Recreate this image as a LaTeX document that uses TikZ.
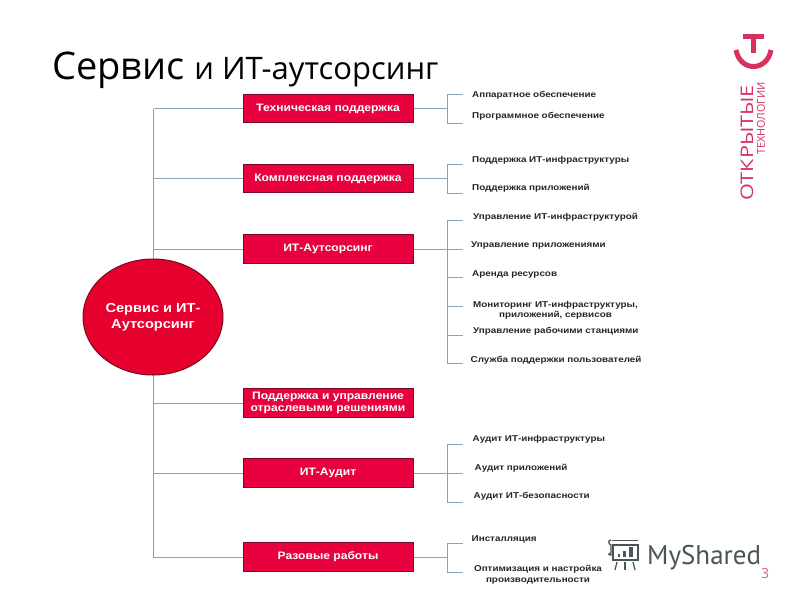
\documentclass[tikz,border=0pt]{standalone}
\usepackage{fontspec}
\usetikzlibrary{shapes.geometric}
\setmainfont{Liberation Sans}
\newfontfamily\boxfont[FakeStretch=1.12]{Liberation Sans Bold}
\newfontfamily\subfont[FakeStretch=1.16]{Liberation Sans Bold}
\newfontfamily\titlefont{Open Sans}
\newfontfamily\logofont{Open Sans}
\newfontfamily\logowide[FakeStretch=1.25]{Open Sans}
\newfontfamily\markfont{PT Sans}
\definecolor{boxred}{HTML}{E9003F}
\definecolor{boxedge}{HTML}{7A0A24}
\definecolor{circred}{HTML}{E5002E}
\definecolor{linkblue}{HTML}{86A2BC}
\definecolor{logored}{HTML}{D8305F}
\definecolor{markgray}{HTML}{4A5557}
\begin{document}
\begin{tikzpicture}[x=1pt,y=-1pt,
  link/.style={draw=linkblue,line width=1pt},
  redbox/.style={draw=boxedge,line width=1pt,fill=boxred,minimum width=170pt,minimum height=28.5pt,inner sep=0pt,text=white,align=center,font=\boxfont\fontsize{10.8}{11.5}\selectfont},
  sublabel/.style={anchor=mid west,inner sep=0pt,yshift=-0.6pt,text=black!85,font=\subfont\fontsize{8.5}{10}\selectfont},
  subtwo/.style={anchor=center,inner sep=0pt,yshift=-0.6pt,align=center,text=black!85,font=\subfont\fontsize{8.5}{10.5}\selectfont},
  logoline/.style={logored,line width=5pt},
  markline/.style={markgray,line width=1.3pt}]
\useasboundingbox (0,0) rectangle (800,600);
\fill[white] (0,0) rectangle (800,600);

% title
\node[anchor=base west,inner sep=0pt] (title) at (52,79) {\titlefont\fontsize{38}{44}\selectfont Сервис {\fontsize{31}{44}\selectfont и ИТ-аутсорсинг}};

% trunk
\coordinate (trunktop) at (153.5,108.5);
\coordinate (trunkbot) at (153.5,557.5);
\draw[link] (trunktop) -- (trunkbot);

% main boxes
\node[redbox] (b1) at (328,108.5) {\raisebox{-0.8pt}{Техническая поддержка}};
\node[redbox] (b2) at (328,178.5) {\raisebox{-0.8pt}{Комплексная поддержка}};
\node[redbox] (b3) at (328,249) {\raisebox{-0.8pt}{ИТ-Аутсорсинг}};
\node[redbox] (b4) at (328,403) {Поддержка и управление\\отраслевыми решениями};
\node[redbox] (b5) at (328,473) {\raisebox{-0.8pt}{ИТ-Аудит}};
\node[redbox] (b6) at (328,557) {\raisebox{-0.8pt}{Разовые работы}};

\foreach \b/\y in {b1/108.5,b2/178.5,b3/249.5,b4/403.5,b5/473.5,b6/557.5}{
  \coordinate (t\b) at (153.5,\y);
  \draw[link] (t\b) -- (\b.west |- t\b);
}

% circle
\node[ellipse,draw=boxedge,line width=1pt,fill=circred,minimum width=140pt,minimum height=116pt,inner sep=0pt,text=white,align=center,font=\boxfont\fontsize{13}{16}\selectfont] (hub) at (153,317) {\raisebox{-1pt}{Сервис и ИТ-}\\\raisebox{-1pt}{Аутсорсинг}};

% sub-brackets
\coordinate (j1) at (447.5,108.5);
\coordinate (j2) at (447.5,178.5);
\coordinate (e3) at (463,249.5);
\coordinate (e5) at (463,473.5);
\coordinate (j6) at (447.5,557.5);
\draw[link] (b1.east |- j1) -- (j1);
\draw[link] (b2.east |- j2) -- (j2);
\draw[link] (b3.east |- e3) -- (e3);
\draw[link] (b5.east |- e5) -- (e5);
\draw[link] (b6.east |- j6) -- (j6);

\draw[link] (463,94.5) -- (447.5,94.5) -- (447.5,123.5) -- (463,123.5);
\draw[link] (463,164.5) -- (447.5,164.5) -- (447.5,193.5) -- (463,193.5);
\draw[link] (463,220.5) -- (447.5,220.5) -- (447.5,363.5) -- (463,363.5);
\draw[link] (447.5,277.5) -- (463,277.5);
\draw[link] (447.5,306.5) -- (463,306.5);
\draw[link] (447.5,335.5) -- (463,335.5);
\draw[link] (463,444.5) -- (447.5,444.5) -- (447.5,502.5) -- (463,502.5);
\draw[link] (463,543.5) -- (447.5,543.5) -- (447.5,572.5) -- (463,572.5);

% sub labels
\node[sublabel] (s11) at (472,94) {Аппаратное обеспечение};
\node[sublabel] (s12) at (472,115.5) {Программное обеспечение};
\node[sublabel] (s21) at (472,159) {Поддержка ИТ-инфраструктуры};
\node[sublabel] (s22) at (472,187) {Поддержка приложений};
\node[sublabel] (s31) at (473,216) {Управление ИТ-инфраструктурой};
\node[sublabel] (s32) at (471,244.5) {Управление приложениями};
\node[sublabel] (s33) at (472,273) {Аренда ресурсов};
\node[subtwo] (s34) at (555.5,309.5) {Мониторинг ИТ-инфраструктуры,\\приложений, сервисов};
\node[sublabel] (s35) at (473,330.5) {Управление рабочими станциями};
\node[sublabel] (s36) at (470.5,359.5) {Служба поддержки пользователей};
\node[sublabel] (s51) at (472.5,438) {Аудит ИТ-инфраструктуры};
\node[sublabel] (s52) at (474.5,467) {Аудит приложений};
\node[sublabel] (s53) at (473.5,495.5) {Аудит ИТ-безопасности};
\node[sublabel] (s61) at (471.5,538.5) {Инсталляция};
\node[subtwo] (s62) at (538,574) {Оптимизация и настройка\\производительности};

% logo
\draw[logoline] (743,36.5) -- (764,36.5);
\draw[logoline] (753.5,36.5) -- (753.5,53);
\draw[logoline] (736,50) .. controls (740,72) and (767,72) .. (771,50);
\node[rotate=90,anchor=west,inner sep=0pt,text=logored] (logoa) at (747,200.5) {\logowide\fontsize{17.3}{20}\selectfont ОТКРЫТЫЕ};
\node[rotate=90,anchor=west,inner sep=0pt,text=logored] (logob) at (761,155) {\logofont\fontsize{10.8}{11}\selectfont ТЕХНОЛОГИИ};

% watermark
\draw[markline] (612,540.5) -- (638,540.5);
\draw[markline] (611,540) .. controls (608,540) and (608,544) .. (611,545) -- (611,553) .. controls (608,554) and (608,555) .. (612,555);
\draw[markline] (613,545) rectangle (638,560);
\fill[markgray] (618,554) rectangle (620,557);
\fill[markgray] (623,551) rectangle (626,557);
\fill[markgray] (629,547) rectangle (633,557);
\draw[markline] (617,562) -- (615,570);
\draw[markline] (625,562) -- (625,570);
\draw[markline] (633,562) -- (635,570);
\node[anchor=base west,inner sep=0pt,text=markgray] (mark) at (647,564) {\markfont\fontsize{27}{28}\selectfont MyShared};
\node[anchor=center,inner sep=0pt,text=logored!80] (page) at (765,573) {\logofont\fontsize{14}{14}\selectfont 3};
\end{tikzpicture}
\end{document}
